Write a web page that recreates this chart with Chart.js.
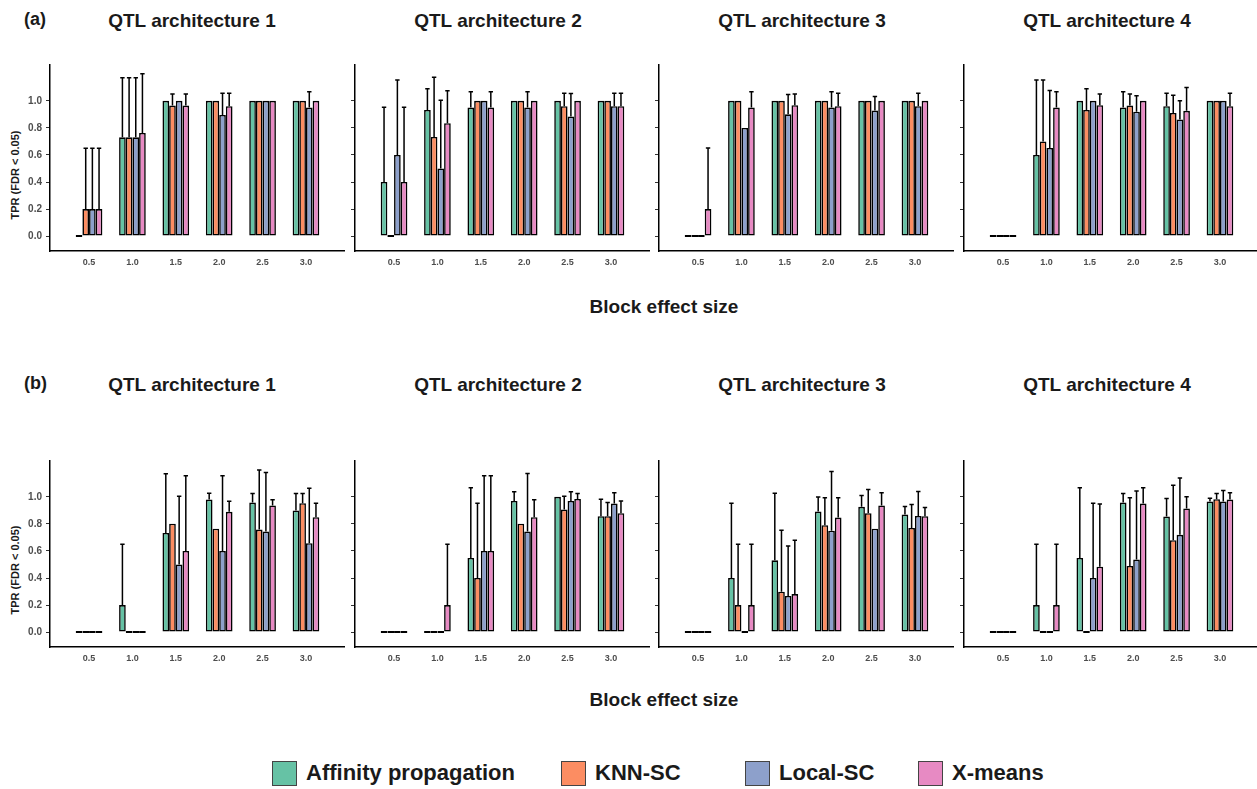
<!DOCTYPE html>
<html>
<head>
<meta charset="utf-8">
<title>TPR by block effect size</title>
<script src="https://cdn.jsdelivr.net/npm/chart.js@4.4.1/dist/chart.umd.min.js"></script>
<style>
  body{margin:0;width:1257px;height:789px;position:relative;overflow:hidden;background:#fff;font-family:'Liberation Sans',Arial,sans-serif;color:#1a1a1a;}
  .abs{position:absolute;white-space:nowrap;font-weight:bold;}
  .ctr{transform:translate(-50%,-50%);}
  .tag{font-size:18px;}
  .ptitle{font-size:19px;}
  .xlab{font-size:19px;}
  .ylab{font-size:11px;transform:translate(-50%,-50%) rotate(-90deg);}
  .panel{position:absolute;}
  .key{position:absolute;width:23px;height:23px;border:1px solid #444;}
  .ktext{position:absolute;font-size:22px;font-weight:bold;white-space:nowrap;transform:translateY(-50%);}
</style>
</head>
<body>

<div class="abs tag" style="left:24px;top:9px;">(a)</div>
<div class="abs tag" style="left:24px;top:373px;">(b)</div>
<div id="titles"></div>
<div class="abs ctr xlab" style="left:664px;top:307px;">Block effect size</div>
<div class="abs ctr xlab" style="left:664px;top:700px;">Block effect size</div>
<div class="abs ylab" style="left:15px;top:175px;">TPR (FDR &lt; 0.05)</div>
<div class="abs ylab" style="left:15px;top:570px;">TPR (FDR &lt; 0.05)</div>
<div id="panels"></div>
<div id="legend"></div>

<script>
// --- Data ---
const effectSizes = [0.5, 1.0, 1.5, 2.0, 2.5, 3.0];
const tprTicks = [0, 0.2, 0.4, 0.6, 0.8, 1.0];
const methods = ['Affinity propagation', 'KNN-SC', 'Local-SC', 'X-means'];
const panelTitles = ['QTL architecture 1', 'QTL architecture 2', 'QTL architecture 3', 'QTL architecture 4'];

// mean TPR per method (rows: AP, KNN-SC, Local-SC, X-means), and top of the error bar
const a1Tpr = [[0, 0.73, 1, 1, 1, 1], [0.2, 0.73, 0.965, 1, 1, 1], [0.2, 0.73, 1, 0.896, 1, 0.95], [0.2, 0.763, 0.965, 0.96, 1, 1]];
const a1Upper = [[0, 1.17, 1, 1, 1, 1], [0.65, 1.17, 1.05, 1, 1, 1], [0.65, 1.17, 1, 1.057, 1, 1.067], [0.65, 1.2, 1.05, 1.057, 1, 1]];

const a2Tpr = [[0.4, 0.933, 0.95, 1, 1, 1], [0, 0.733, 1, 1, 0.96, 1], [0.6, 0.5, 1, 0.95, 0.884, 0.96], [0.4, 0.835, 0.95, 1, 1, 0.96]];
const a2Upper = [[0.953, 1.089, 1.067, 1, 1, 1], [0, 1.175, 1, 1, 1.057, 1], [1.155, 1.005, 1, 1.067, 1.054, 1.057], [0.953, 1.074, 1.067, 1, 1, 1.057]];

const a3Tpr = [[0, 1, 1, 1, 1, 1], [0, 1, 1, 1, 1, 1], [0, 0.8, 0.9, 0.95, 0.928, 0.96], [0.2, 0.95, 0.968, 0.96, 1, 1]];
const a3Upper = [[0, 1, 1, 1, 1, 1], [0, 1, 1, 1, 1, 1], [0, 0.8, 1.047, 1.067, 1.032, 1.057], [0.652, 1.067, 1.05, 1.057, 1, 1]];

const a4Tpr = [[0, 0.6, 1, 0.95, 0.96, 1], [0, 0.7, 0.933, 0.965, 0.911, 1], [0, 0.652, 1, 0.92, 0.862, 1], [0, 0.95, 0.968, 1, 0.926, 0.96]];
const a4Upper = [[0, 1.155, 1, 1.067, 1.057, 1], [0, 1.155, 1.089, 1.05, 1.042, 1], [0, 1.077, 1, 1.037, 1.0, 1], [0, 1.067, 1.05, 1, 1.099, 1.057]];

const b1Tpr = [[0, 0.2, 0.733, 0.98, 0.958, 0.899], [0, 0, 0.802, 0.765, 0.758, 0.953], [0, 0, 0.5, 0.6, 0.743, 0.657], [0, 0, 0.6, 0.889, 0.936, 0.849]];
const b1Upper = [[0, 0.649, 1.17, 1.027, 1.025, 1.025], [0, 0, 0.802, 0.765, 1.198, 1.025], [0, 0, 1.005, 1.156, 1.18, 1.064], [0, 0, 1.156, 0.968, 0.978, 0.953]];

const b2Tpr = [[0, 0, 0.548, 0.97, 1.0, 0.857], [0, 0, 0.4, 0.802, 0.906, 0.857], [0, 0, 0.6, 0.743, 0.97, 0.95], [0, 0.2, 0.6, 0.849, 0.985, 0.879]];
const b2Upper = [[0, 0, 1.067, 1.037, 1.0, 0.983], [0, 0, 0.953, 0.802, 1.005, 0.958], [0, 0, 1.156, 1.173, 1.037, 1.03], [0, 0.649, 1.156, 0.978, 1.025, 0.97]];

const b3Tpr = [[0, 0.4, 0.531, 0.891, 0.926, 0.869], [0, 0.2, 0.299, 0.79, 0.879, 0.77], [0, 0, 0.267, 0.75, 0.765, 0.859], [0, 0.2, 0.281, 0.847, 0.936, 0.857]];
const b3Upper = [[0, 0.953, 1.027, 0.998, 1.01, 0.928], [0, 0.649, 0.753, 0.993, 1.054, 0.943], [0, 0, 0.637, 1.188, 0.765, 1.04], [0, 0.649, 0.679, 0.993, 1.03, 0.921]];

const b4Tpr = [[0, 0.2, 0.548, 0.958, 0.854, 0.965], [0, 0, 0, 0.489, 0.679, 0.983], [0, 0, 0.4, 0.536, 0.719, 0.965], [0, 0.2, 0.484, 0.95, 0.914, 0.98]];
const b4Upper = [[0, 0.649, 1.067, 1.025, 0.988, 0.99], [0, 0, 0, 0.993, 1.086, 1.025], [0, 0, 0.953, 1.044, 1.14, 1.047], [0, 0.649, 0.948, 1.067, 1.0, 1.03]];

const methodColors = ['#66C2A5', '#FC8D62', '#8DA0CB', '#E78AC3'];

// --- Layout ---
const axisLeft = [50, 355, 659, 964];      // x of each panel's y axis
const titleCenter = [192, 498, 802, 1107];
const rowTop = [55, 451];                   // canvas top for each row
const rowTitleY = [21, 385];
const rows = [
  [[a1Tpr, a1Upper], [a2Tpr, a2Upper], [a3Tpr, a3Upper], [a4Tpr, a4Upper]],
  [[b1Tpr, b1Upper], [b2Tpr, b2Upper], [b3Tpr, b3Upper], [b4Tpr, b4Upper]]
];
const FONT = "'Liberation Sans', Arial, sans-serif";

// --- Error bars (upper whisker only) ---
const errorBarPlugin = {
  id: 'errorBars',
  afterDatasetsDraw(chart){
    const {ctx} = chart, y = chart.scales.y;
    ctx.save();
    ctx.strokeStyle = '#000'; ctx.lineWidth = 1.5;
    chart.data.datasets.forEach((ds, i) => {
      chart.getDatasetMeta(i).data.forEach((bar, j) => {
        const hi = ds.upper[j];
        if(hi <= ds.data[j].y + 1e-9) return;
        const top = y.getPixelForValue(hi);
        ctx.beginPath();
        ctx.moveTo(bar.x, bar.y); ctx.lineTo(bar.x, top);
        ctx.moveTo(bar.x - 2.2, top); ctx.lineTo(bar.x + 2.2, top);
        ctx.stroke();
      });
    });
    ctx.restore();
  }
};

function makePanel(tpr, upper, left, top, showY){
  const canvas = document.createElement('canvas');
  canvas.width = 345; canvas.height = 216;
  canvas.className = 'panel';
  canvas.style.left = left + 'px'; canvas.style.top = top + 'px';
  document.getElementById('panels').appendChild(canvas);

  const datasets = methods.map((m, i) => ({
    label: m,
    data: effectSizes.map((x, j) => ({x, y: tpr[i][j]})),
    upper: upper[i],
    backgroundColor: methodColors[i]
  }));

  new Chart(canvas, {
    type: 'bar',
    data: {datasets},
    options: {
      responsive: false, animation: false,
      layout: {padding: {top: 10, right: 0, bottom: 0, left: 0}},
      plugins: {legend: {display: false}, tooltip: {enabled: false}},
      datasets: {bar: {categoryPercentage: 0.615, barPercentage: 1, borderWidth: 1.6, borderColor: '#000', borderSkipped: false, minBarLength: 2}},
      scales: {
        x: {
          type: 'linear', min: 0.05, max: 3.45, offset: false,
          grid: {display: true, drawOnChartArea: false, drawTicks: false, offset: false},
          border: {display: true, color: '#000', width: 1.5},
          ticks: {color: '#4d4d4d', font: {family: FONT, size: 9, weight: 'bold'}, padding: 6, autoSkip: false, maxRotation: 0, callback: v => v.toFixed(1)},
          afterBuildTicks: s => { s.ticks = effectSizes.map(v => ({value: v})); },
          afterFit: s => { s.height = 20; }
        },
        y: {
          min: -0.11, max: 1.265,
          grid: {display: true, drawOnChartArea: false, drawTicks: true, tickLength: 4, color: '#333'},
          border: {display: true, color: '#000', width: 1.5},
          ticks: {color: '#4d4d4d', font: {family: FONT, size: 10, weight: 'bold'}, padding: 4, callback: v => showY ? v.toFixed(1) : ''},
          afterBuildTicks: s => { s.ticks = tprTicks.map(v => ({value: v})); },
          afterFit: s => { s.width = 50; }
        }
      }
    },
    plugins: [errorBarPlugin]
  });
}

// --- Panels and titles ---
rows.forEach((row, r) => {
  row.forEach(([tpr, upper], p) => {
    makePanel(tpr, upper, axisLeft[p] - 50, rowTop[r], p === 0);
    const t = document.createElement('div');
    t.className = 'abs ctr ptitle';
    t.style.left = titleCenter[p] + 'px'; t.style.top = rowTitleY[r] + 'px';
    t.textContent = panelTitles[p];
    document.getElementById('titles').appendChild(t);
  });
});

// --- Legend ---
const keyX = [272, 561, 745, 918];
methods.forEach((m, i) => {
  const box = document.createElement('div');
  box.className = 'key';
  box.style.left = keyX[i] + 'px'; box.style.top = '761px';
  box.style.background = methodColors[i];
  const txt = document.createElement('div');
  txt.className = 'ktext';
  txt.style.left = (keyX[i] + 34) + 'px'; txt.style.top = '773px';
  txt.textContent = m;
  document.getElementById('legend').append(box, txt);
});
</script>
</body>
</html>
